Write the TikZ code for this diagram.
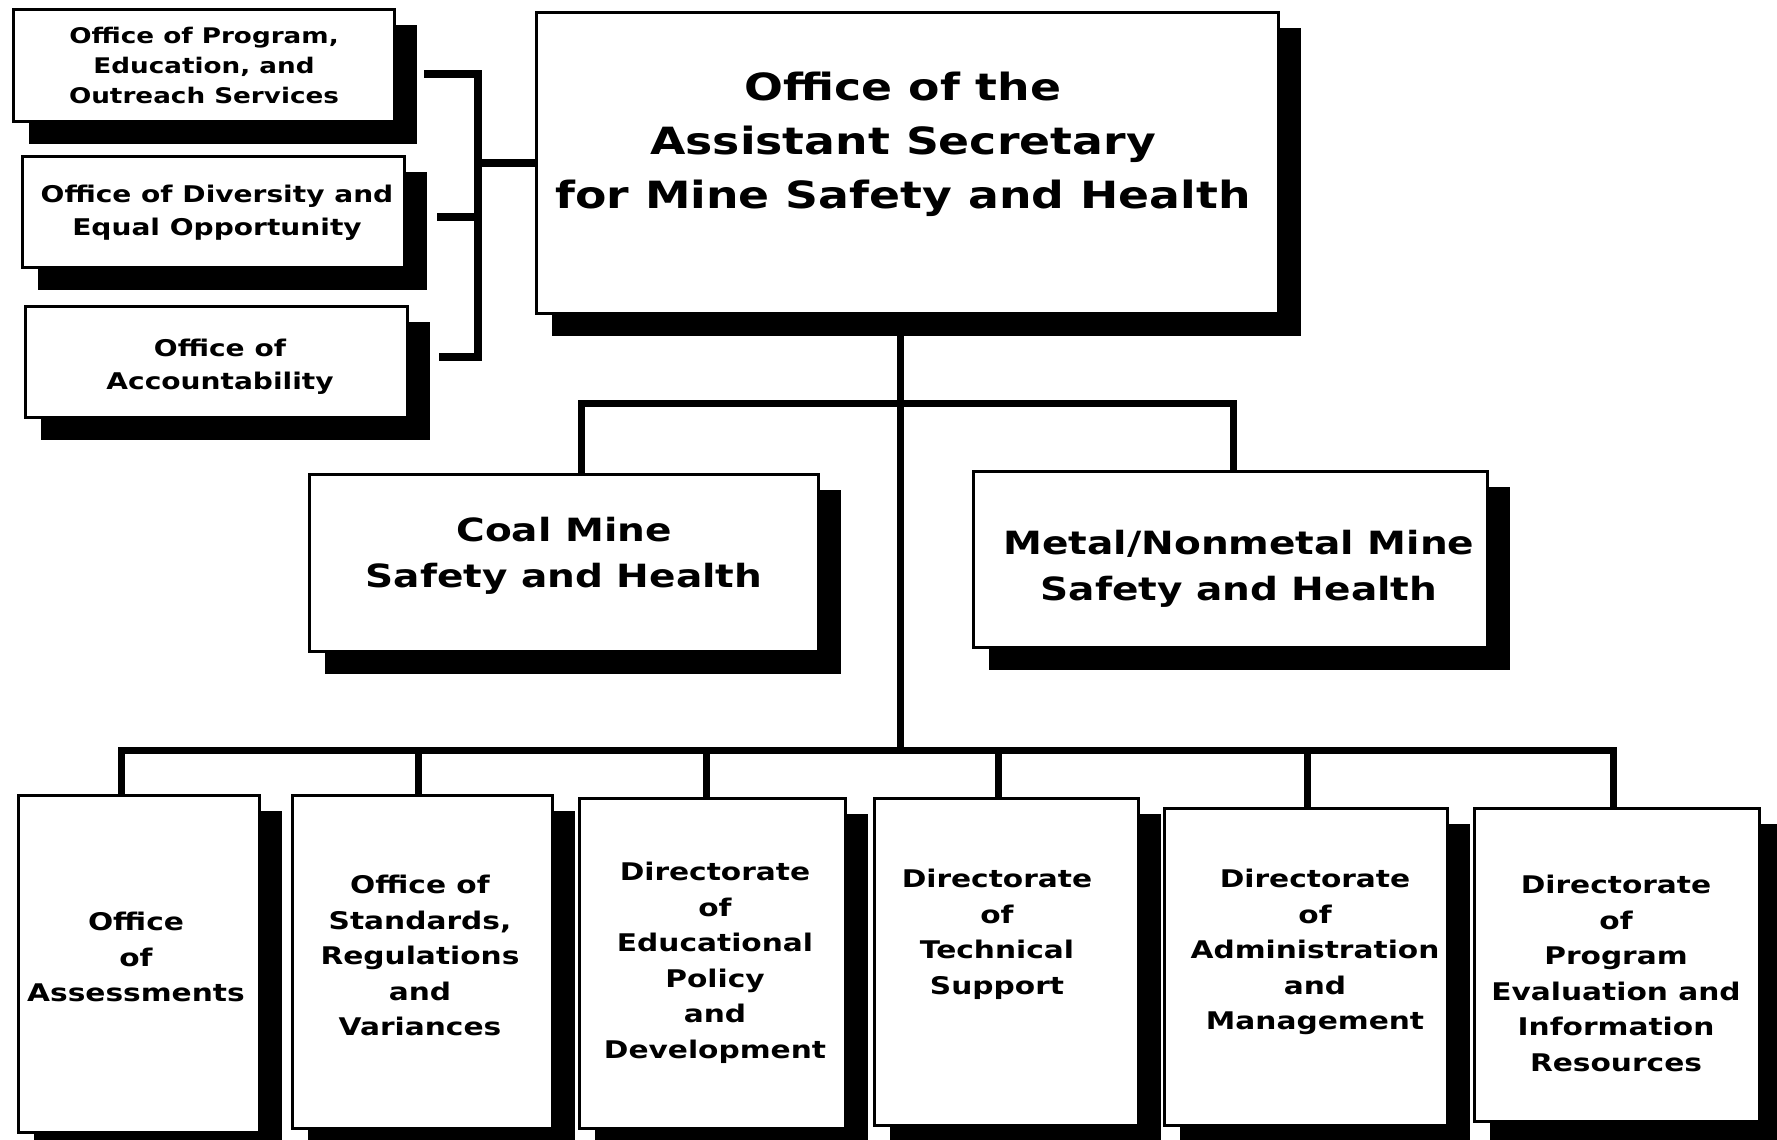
\documentclass[tikz,border=0pt]{standalone}
\usepackage{fontspec}
\newfontfamily\orgfont[FakeStretch=1.22]{DejaVu Sans}
\usetikzlibrary{fit}
\tikzset{
  box/.style={draw=black, line width=1.5pt, fill=white, inner sep=0pt},
  conn/.style={line width=3.5pt, line join=miter},
  brk/.style={line width=4.25pt, line join=miter},
  lbl/.style={align=center, inner sep=0pt, anchor=north},
  ftitle/.style={font=\orgfont\bfseries\fontsize{18.75}{27}\selectfont},
  fmid/.style={font=\orgfont\bfseries\fontsize{16}{23}\selectfont},
  fprog/.style={font=\orgfont\bfseries\fontsize{10.75}{15}\selectfont},
  fside/.style={font=\orgfont\bfseries\fontsize{11.5}{16.25}\selectfont},
  fbot/.style={font=\orgfont\bfseries\fontsize{12.15}{17.75}\selectfont},
}
\newcommand\orgbox[5]{%
  \fill[black] (#2+17,#3+17) rectangle (#4+21,#5+21);
  \node[box, fit={(#2+1.5,#3+1.5) (#4-1.5,#5-1.5)}] (#1) {};
}
\begin{document}
\begin{tikzpicture}[x=0.5pt,y=-0.5pt]
\useasboundingbox (0,0) rectangle (1777,1140);
\fill[white] (0,0) rectangle (1777,1140);
\clip (0,0) rectangle (1777,1140);

% boxes with shadows
\orgbox{main}{535}{11}{1280}{315}
\orgbox{prog}{12}{8}{396}{123}
\orgbox{div}{21}{155}{406}{269}
\orgbox{acc}{24}{305}{409}{419}
\orgbox{coal}{308}{473}{820}{653}
\orgbox{metal}{972}{470}{1489}{649}
\orgbox{b1}{17}{794}{261}{1134}
\orgbox{b2}{291}{794}{554}{1130}
\orgbox{b3}{578}{797}{847}{1130}
\orgbox{b4}{873}{797}{1140}{1127}
\orgbox{b5}{1163}{807}{1449}{1127}
\orgbox{b6}{1473}{807}{1761}{1123}

% texts
\node[lbl, ftitle] (mainT) at (903,72) {Office of the\\Assistant Secretary\\for Mine Safety and Health};
\node[lbl, fprog] (progT) at (204,27) {Office of Program,\\Education, and\\Outreach Services};
\node[lbl, fside] (divT) at (217,185) {Office of Diversity and\\Equal Opportunity};
\node[lbl, fside] (accT) at (220,339) {Office of\\Accountability};
\node[lbl, fmid] (coalT) at (564,517) {Coal Mine\\Safety and Health};
\node[lbl, fmid] (metalT) at (1239,530) {Metal/Nonmetal Mine\\Safety and Health};
\node[lbl, fbot] (b1T) at (136,912) {Office\\of\\Assessments};
\node[lbl, fbot] (b2T) at (420,875) {Office of\\Standards,\\Regulations\\and\\Variances};
\node[lbl, fbot] (b3T) at (715,862) {Directorate\\of\\Educational\\Policy\\and\\Development};
\node[lbl, fbot] (b4T) at (997,869) {Directorate\\of\\Technical\\Support};
\node[lbl, fbot] (b5T) at (1315,869) {Directorate\\of\\Administration\\and\\Management};
\node[lbl, fbot] (b6T) at (1616,875) {Directorate\\of\\Program\\Evaluation and\\Information\\Resources};

% junction coordinates
\coordinate (hub) at (900,403);
\coordinate (cd) at (581,403);
\coordinate (md) at (1233,403);
\coordinate (bhub) at (900,750);
\coordinate (d1) at (121,750);
\coordinate (d2) at (418,750);
\coordinate (d3) at (706,750);
\coordinate (d4) at (998,750);
\coordinate (d5) at (1307,750);
\coordinate (d6) at (1613,750);

% tree connectors
\draw[conn] (main.south -| hub) -- (bhub);
\draw[conn] (cd |- coal.north) -- (cd) -- (md) -- (md |- metal.north);
\draw[conn] (d1 |- b1.north) -- (d1) -- (d6) -- (d6 |- b6.north);
\draw[conn] (d2) -- (d2 |- b2.north);
\draw[conn] (d3) -- (d3 |- b3.north);
\draw[conn] (d4) -- (d4 |- b4.north);
\draw[conn] (d5) -- (d5 |- b5.north);

% bracket for staff offices
\coordinate (sp) at (424,74);
\coordinate (sd) at (437,217);
\coordinate (sa) at (439,357);
\coordinate (bvt) at (478,74);
\coordinate (bvb) at (478,357);
\coordinate (bvm) at (478,163);
\draw[brk] (sp) -- (bvt) -- (bvb) -- (sa);
\draw[brk] (sd) -- (sd -| bvt);
\draw[brk] (bvm) -- (bvm -| main.west);
\end{tikzpicture}
\end{document}
